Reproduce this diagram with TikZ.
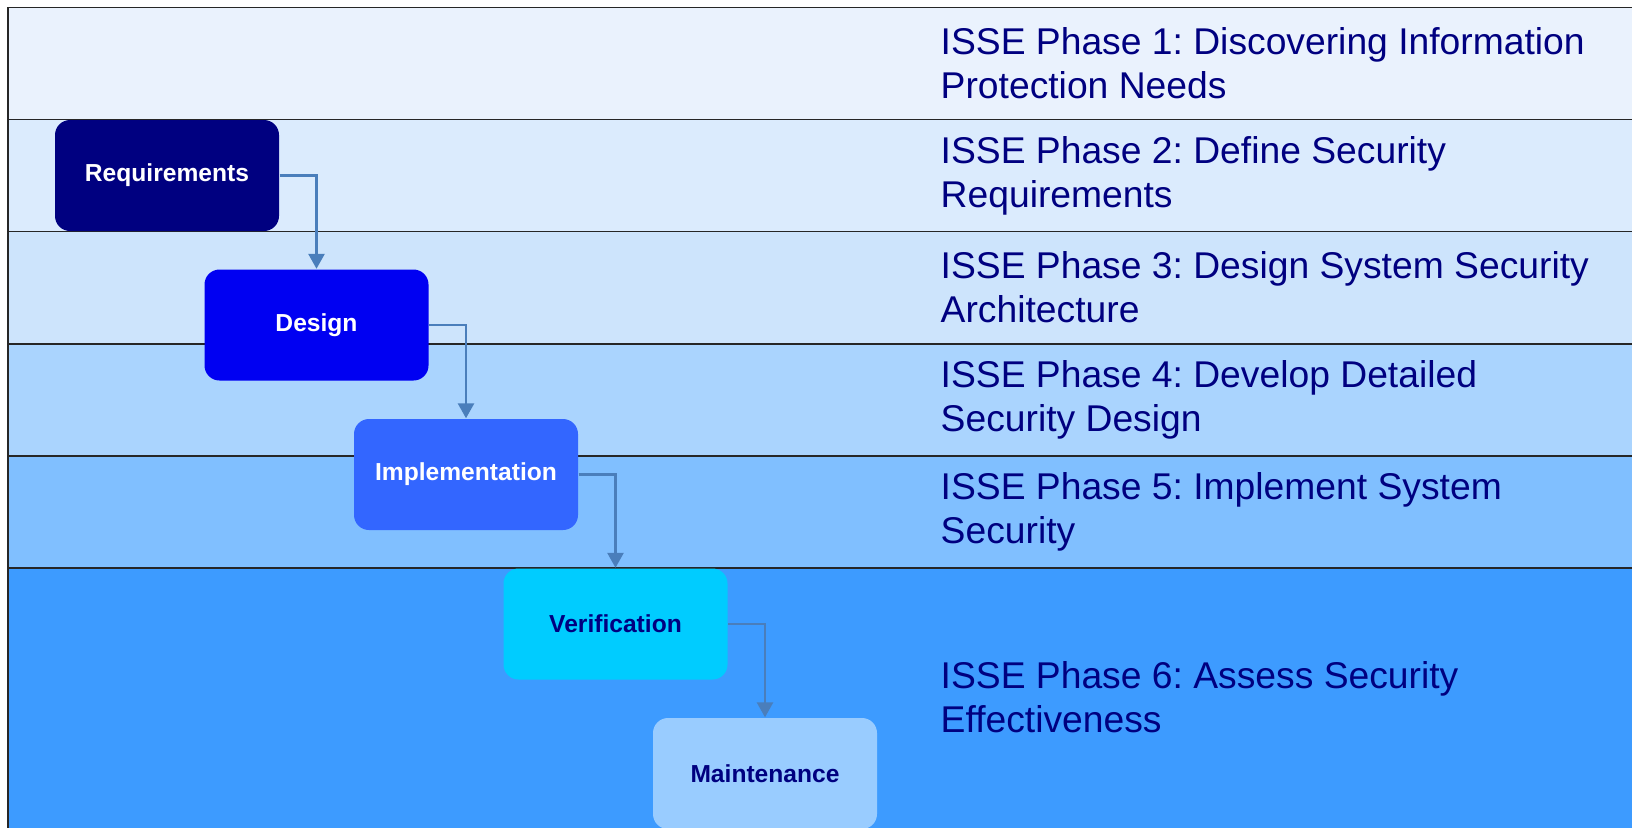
\documentclass[tikz,border=0pt]{standalone}
\usepackage{fontspec}
\setmainfont{Liberation Sans}
\usetikzlibrary{arrows.meta}
\frenchspacing
\definecolor{bandA}{HTML}{EAF2FD}
\definecolor{bandB}{HTML}{DBEBFD}
\definecolor{bandC}{HTML}{CDE4FC}
\definecolor{bandD}{HTML}{AAD4FE}
\definecolor{bandE}{HTML}{80BFFF}
\definecolor{bandF}{HTML}{3D9BFF}
\definecolor{boxA}{HTML}{000080}
\definecolor{boxB}{HTML}{0000F2}
\definecolor{boxC}{HTML}{3366FF}
\definecolor{boxD}{HTML}{00CCFF}
\definecolor{boxE}{HTML}{99CCFF}
\definecolor{navyText}{HTML}{000080}
\definecolor{flowBlue}{HTML}{4A7EBB}
\begin{document}
\begin{tikzpicture}[
    stage/.style={rounded corners=0.15cm, minimum width=2.24cm, minimum height=1.11cm,
        inner sep=0pt, font=\fontsize{7}{8}\selectfont\bfseries},
    phase/.style={anchor=west, align=left, inner sep=0pt, text=navyText,
        font=\fontsize{10.6}{12.5}\selectfont},
    flow/.style={draw=flowBlue, line width=0.75pt, -{Triangle[width=0.16cm,length=0.15cm]}},
    bandline/.style={draw=black!85, line width=0.45pt}
]
    \useasboundingbox (0,0) rectangle (16.32,8.27);
    \clip (0,0) rectangle (16.32,8.27);
    \fill[white] (0,0) rectangle (16.32,8.27);
    \foreach \c [count=\i] in {bandA,bandB,bandC,bandD,bandE}
        \draw[bandline, fill=\c] (0.08,{8.197-(\i-1)*1.1214}) rectangle (16.5,{8.197-\i*1.1214});
    \draw[bandline, fill=bandF] (0.08,2.59) rectangle (16.5,-0.1);

    \node[stage, fill=boxA, text=white] (req) at (1.67,6.515) {Requirements};
    \node[stage, fill=boxB, text=white] (des) at (3.165,5.02) {Design};
    \node[stage, fill=boxC, text=white] (imp) at (4.66,3.525) {Implementation};
    \node[stage, fill=boxD, text=navyText] (ver) at (6.155,2.03) {Verification};
    \node[stage, fill=boxE, text=navyText] (mai) at (7.65,0.535) {Maintenance};

    \draw[flow] (req.east) -| (des.north);
    \draw[flow] (des.east) -| (imp.north);
    \draw[flow] (imp.east) -| (ver.north);
    \draw[flow] (ver.east) -| (mai.north);

    \node[phase] (p1) at (9.40,7.636) {ISSE Phase 1: Discovering Information\\Protection Needs};
    \node[phase] (p2) at (9.40,6.515) {ISSE Phase 2: Define Security\\Requirements};
    \node[phase] (p3) at (9.40,5.395) {ISSE Phase 3: Design System Security\\Architecture};
    \node[phase] (p4) at (9.40,4.273) {ISSE Phase 4: Develop Detailed\\Security Design};
    \node[phase] (p5) at (9.40,3.151) {ISSE Phase 5: Implement System\\Security};
    \node[phase] (p6) at (9.40,1.300) {ISSE Phase 6: Assess Security\\Effectiveness};
\end{tikzpicture}
\end{document}
